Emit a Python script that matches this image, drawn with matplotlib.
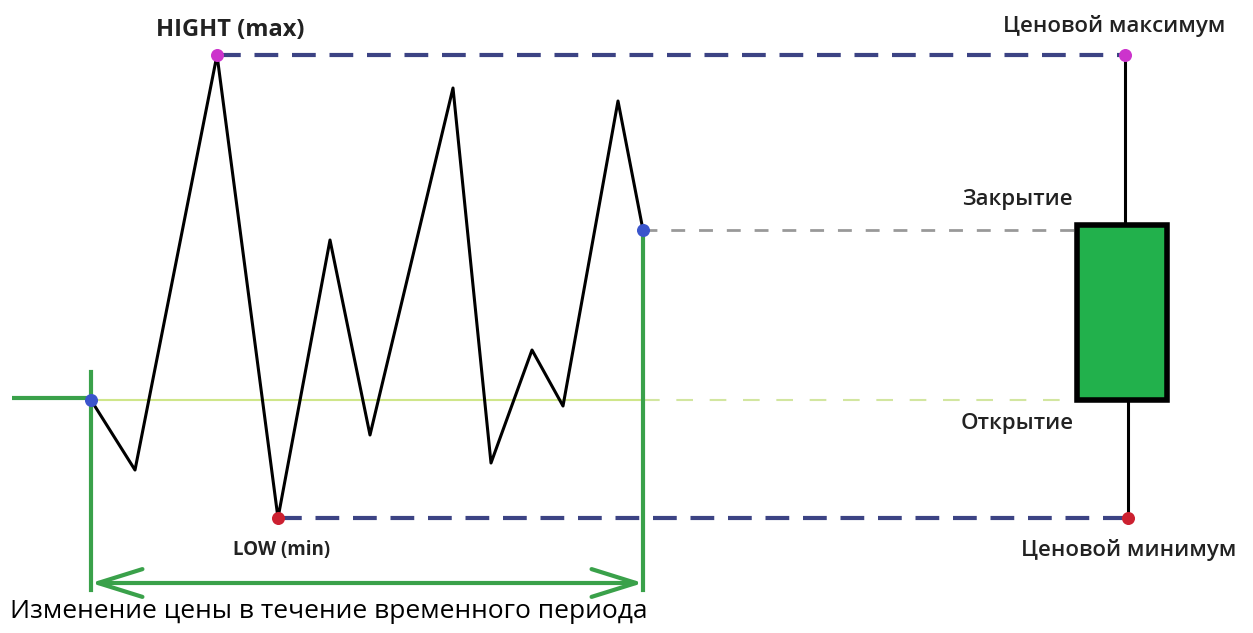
import matplotlib

matplotlib.use("Agg")
import matplotlib.pyplot as plt
from matplotlib.patches import Rectangle

# price path (x = time, y = price in pixel-like units, larger = lower)
path_x = [91, 135, 217, 278, 330, 370, 453, 491, 532, 563, 618, 643]
path_y = [400, 470, 55, 518, 240, 435, 88, 463, 350, 406, 101, 230]

open_y = 400
close_y = 230
high_y = 55
low_y = 518
t_start, t_end = 91, 643
candle_x = 1125
candle_w = 90

GREEN = "#3aa14a"
BODY = "#22b14c"
NAVY = "#3c4384"
TXT = "#222222"
plt.rcParams["font.family"] = ["Open Sans", "DejaVu Sans"]

fig = plt.figure(figsize=(12.53, 6.33), dpi=100)
ax = fig.add_axes([0, 0, 1, 1])
ax.set_xlim(0, 1253)
ax.set_ylim(633, 0)
ax.axis("off")

# open level
ax.plot([12, t_start], [open_y - 2, open_y - 2], color=GREEN, lw=3, solid_capstyle="butt")
ax.plot([t_start, t_end], [open_y, open_y], color="#cfe68a", lw=1.5)
ax.plot([t_end, candle_x - candle_w / 2], [open_y, open_y], color="#d2e6a0", lw=1.5,
        dashes=(8, 8))
# close level
ax.plot([t_end, candle_x - candle_w / 2], [close_y, close_y], color="#999999", lw=2,
        dashes=(5, 5))
# high / low levels
ax.plot([path_x[2], candle_x], [high_y, high_y], color=NAVY, lw=3, dashes=(5.7, 3.3))
ax.plot([path_x[3], candle_x + 3], [low_y, low_y], color=NAVY, lw=3, dashes=(5.7, 3.3))

# period bounds
ax.plot([t_start, t_start], [372, 590], color=GREEN, lw=3)
ax.plot([t_end, t_end], [close_y, 590], color=GREEN, lw=3)
ax.annotate("", xy=(t_start, 583), xytext=(t_end, 583),
            arrowprops=dict(arrowstyle="<->,head_length=3.2,head_width=1.0",
                            color=GREEN, lw=3, shrinkA=0, shrinkB=0))

# price path
ax.plot(path_x, path_y, color="black", lw=2.2, zorder=3)

# candle
ax.plot([candle_x, candle_x], [high_y, close_y], color="black", lw=2.2)
ax.plot([candle_x + 3, candle_x + 3], [open_y, low_y], color="black", lw=2.2)
ax.add_patch(Rectangle((candle_x - candle_w / 2 - 3, close_y - 5), candle_w, open_y - close_y + 5,
                       facecolor=BODY, edgecolor="black", lw=4, zorder=4))

# points
ax.scatter([t_start, t_end], [open_y, close_y], s=70, color="#3a55cc", zorder=5)
ax.scatter([path_x[2], candle_x], [high_y, high_y], s=70, color="#cc33cc", zorder=5)
ax.scatter([path_x[3], candle_x + 3], [low_y, low_y], s=70, color="#cc2030", zorder=5)

# labels
ax.text(230, 30, "HIGHT (max)", ha="center", va="center", fontsize=17,
        fontweight="bold", color=TXT)
ax.text(282, 550, "LOW (min)", ha="center", va="center", fontsize=13.5,
        fontweight="bold", color=TXT)
ax.text(1114, 26, "Ценовой максимум", ha="center", va="center", fontsize=16,
        fontweight="semibold", color=TXT)
ax.text(1129, 550, "Ценовой минимум", ha="center", va="center", fontsize=16,
        fontweight="semibold", color=TXT)
ax.text(1017, 200, "Закрытие", ha="center", va="center", fontsize=16,
        fontweight="semibold", color=TXT)
ax.text(1017, 423, "Открытие", ha="center", va="center", fontsize=16,
        fontweight="semibold", color=TXT)
ax.text(10, 612, "Изменение цены в течение временного периода", ha="left",
        va="center", fontsize=19, color="black")

fig.savefig("out.png", dpi=100)
